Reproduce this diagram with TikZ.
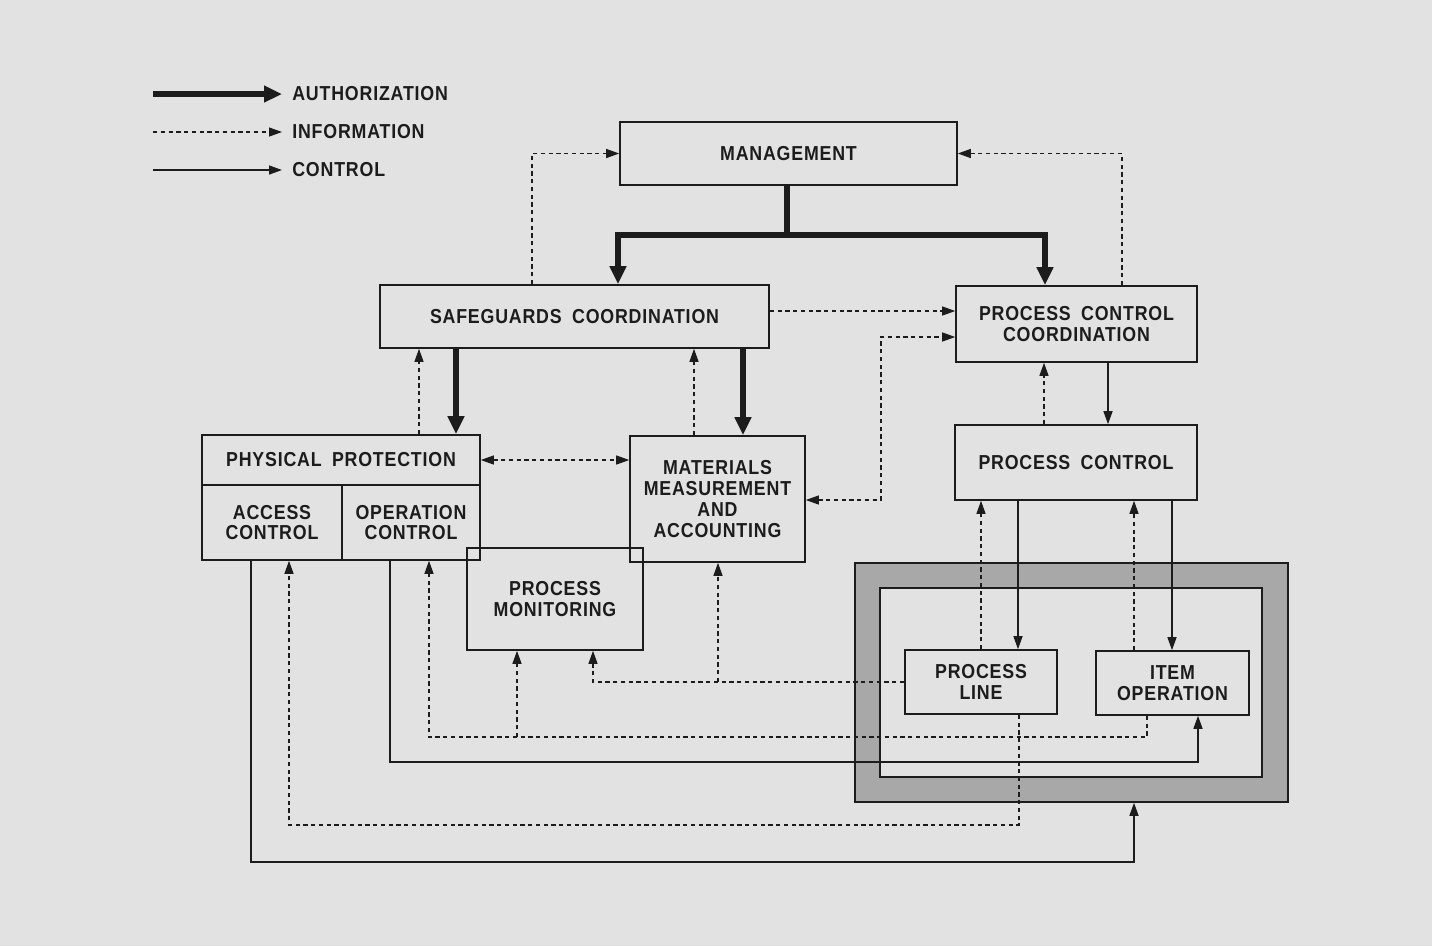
\documentclass[tikz,border=0pt]{standalone}
\usepackage{fontspec}
\setmainfont{Liberation Sans}[FakeStretch=0.88, WordSpace=1.8, LetterSpace=4]
\usetikzlibrary{arrows.meta}
\definecolor{paperfig}{RGB}{226, 226, 226}
\definecolor{bandfig}{RGB}{168, 168, 168}
\definecolor{inkfig}{RGB}{28, 28, 28}

\begin{document}
\begin{tikzpicture}[x=0.2mm, y=-0.2mm, >={Triangle[length=2.6mm, width=1.8mm]},
    box/.style={draw=inkfig, line width=0.9pt, inner sep=0pt, align=center, text=inkfig,
        font=\fontsize{11.5}{11.9}\selectfont\bfseries},
    legend/.style={anchor=west, inner sep=0pt, text=inkfig, font=\fontsize{11.5}{11.9}\selectfont\bfseries},
    auth/.style={draw=inkfig, line width=1.2mm, -{Triangle[length=3.6mm, width=3.2mm]}},
    info/.style={draw=inkfig, line width=0.7pt, dash pattern=on 0.85mm off 0.7mm, ->},
    ctrl/.style={draw=inkfig, line width=0.8pt, ->}]
    \fill[paperfig] (0,0) rectangle (1432,946);
    \useasboundingbox (0,0) rectangle (1432,946);

    % legend
    \node[legend] (lauth) at (292,94) {AUTHORIZATION};
    \node[legend] (linfo) at (292,132) {INFORMATION};
    \node[legend] (lctrl) at (292,170) {CONTROL};
    \draw[auth] (153,0 |- lauth.west) -- ([xshift=-2mm]lauth.west);
    \draw[info] (153,0 |- linfo.west) -- ([xshift=-2mm]linfo.west);
    \draw[ctrl] (153,0 |- lctrl.west) -- ([xshift=-2mm]lctrl.west);

    % shaded plant area
    \node[draw=inkfig, fill=bandfig, line width=0.9pt, inner sep=0pt, minimum width=86.6mm, minimum height=47.8mm] (facility) at (1071.5,682.5) {};
    \node[draw=inkfig, fill=paperfig, line width=0.9pt, inner sep=0pt, minimum width=76.4mm, minimum height=37.8mm] (area) at (1071,682.5) {};

    \node[box, minimum width=67.4mm, minimum height=12.6mm] (mgmt) at (788.5,153.5) {MANAGEMENT};
    \node[box, minimum width=77.8mm, minimum height=12.6mm] (sgc) at (574.5,316.5) {SAFEGUARDS COORDINATION};
    \node[box, minimum width=48.2mm, minimum height=15.2mm] (pcc) at (1076.5,324) {PROCESS CONTROL\\COORDINATION};
    \node[box, minimum width=48.4mm, minimum height=15mm] (pc) at (1076,462.5) {PROCESS CONTROL};
    \node[box, minimum width=55.6mm, minimum height=10mm] (pp) at (341,460) {PHYSICAL PROTECTION};
    \node[box, minimum width=28mm, minimum height=15mm] (ac) at (272,522.5) {ACCESS\\CONTROL};
    \node[box, minimum width=27.6mm, minimum height=15mm] (oc) at (411,522.5) {OPERATION\\CONTROL};
    \node[box, minimum width=35mm, minimum height=25.2mm] (mma) at (717.5,499) {MATERIALS\\MEASUREMENT\\AND\\ACCOUNTING};
    \node[box, minimum width=35.2mm, minimum height=20.4mm] (pm) at (555,599) {PROCESS\\MONITORING};
    \node[box, minimum width=30.4mm, minimum height=12.8mm] (pl) at (981,682) {PROCESS\\LINE};
    \node[box, minimum width=30.6mm, minimum height=12.8mm] (io) at (1172.5,683) {ITEM\\OPERATION};

    % authorization
    \coordinate (split) at (787,235);
    \draw[auth] (mgmt.south -| split) -- (split) -| (618,0 |- sgc.north);
    \draw[auth] (split) -| (1045,0 |- pcc.north);
    \draw[auth] (456,0 |- sgc.south) -- (456,0 |- pp.north);
    \draw[auth] (743,0 |- sgc.south) -- (743,0 |- mma.north);

    % information
    \draw[info] (532,0 |- sgc.north) |- (mgmt.west);
    \draw[info] (1122,0 |- pcc.north) |- (mgmt.east);
    \draw[info] (sgc.east |- 0,311) -- (pcc.west |- 0,311);
    \draw[info, <->] (mma.east |- 0,500) -| (881,337) -- (pcc.west |- 0,337);
    \draw[info] (419,0 |- pp.north) -- (419,0 |- sgc.south);
    \draw[info] (694,0 |- mma.north) -- (694,0 |- sgc.south);
    \draw[info, <->] (pp.east) -- (mma.west |- pp.east);
    \draw[info] (1044,0 |- pc.north) -- (1044,0 |- pcc.south);
    \draw[info] (981,0 |- pl.north) -- (981,0 |- pc.south);
    \draw[info] (1134,0 |- io.north) -- (1134,0 |- pc.south);
    \draw[info] (pl.west) -| (593,0 |- pm.south);
    \draw[info] (718,0 |- pl.west) -- (718,0 |- mma.south);
    \draw[info] (1147,0 |- io.south) -- (1147,737) -| (429,0 |- oc.south);
    \draw[info] (517,737) -- (517,0 |- pm.south);
    \draw[info] (1019,0 |- pl.south) -- (1019,825) -| (289,0 |- ac.south);

    % control
    \draw[ctrl] (1108,0 |- pcc.south) -- (1108,0 |- pc.north);
    \draw[ctrl] (1018,0 |- pc.south) -- (1018,0 |- pl.north);
    \draw[ctrl] (1172,0 |- pc.south) -- (1172,0 |- io.north);
    \draw[ctrl] (390,0 |- oc.south) -- (390,762) -| (1198,0 |- io.south);
    \draw[ctrl] (251,0 |- ac.south) -- (251,862) -| (1134,0 |- facility.south);
\end{tikzpicture}
\end{document}
